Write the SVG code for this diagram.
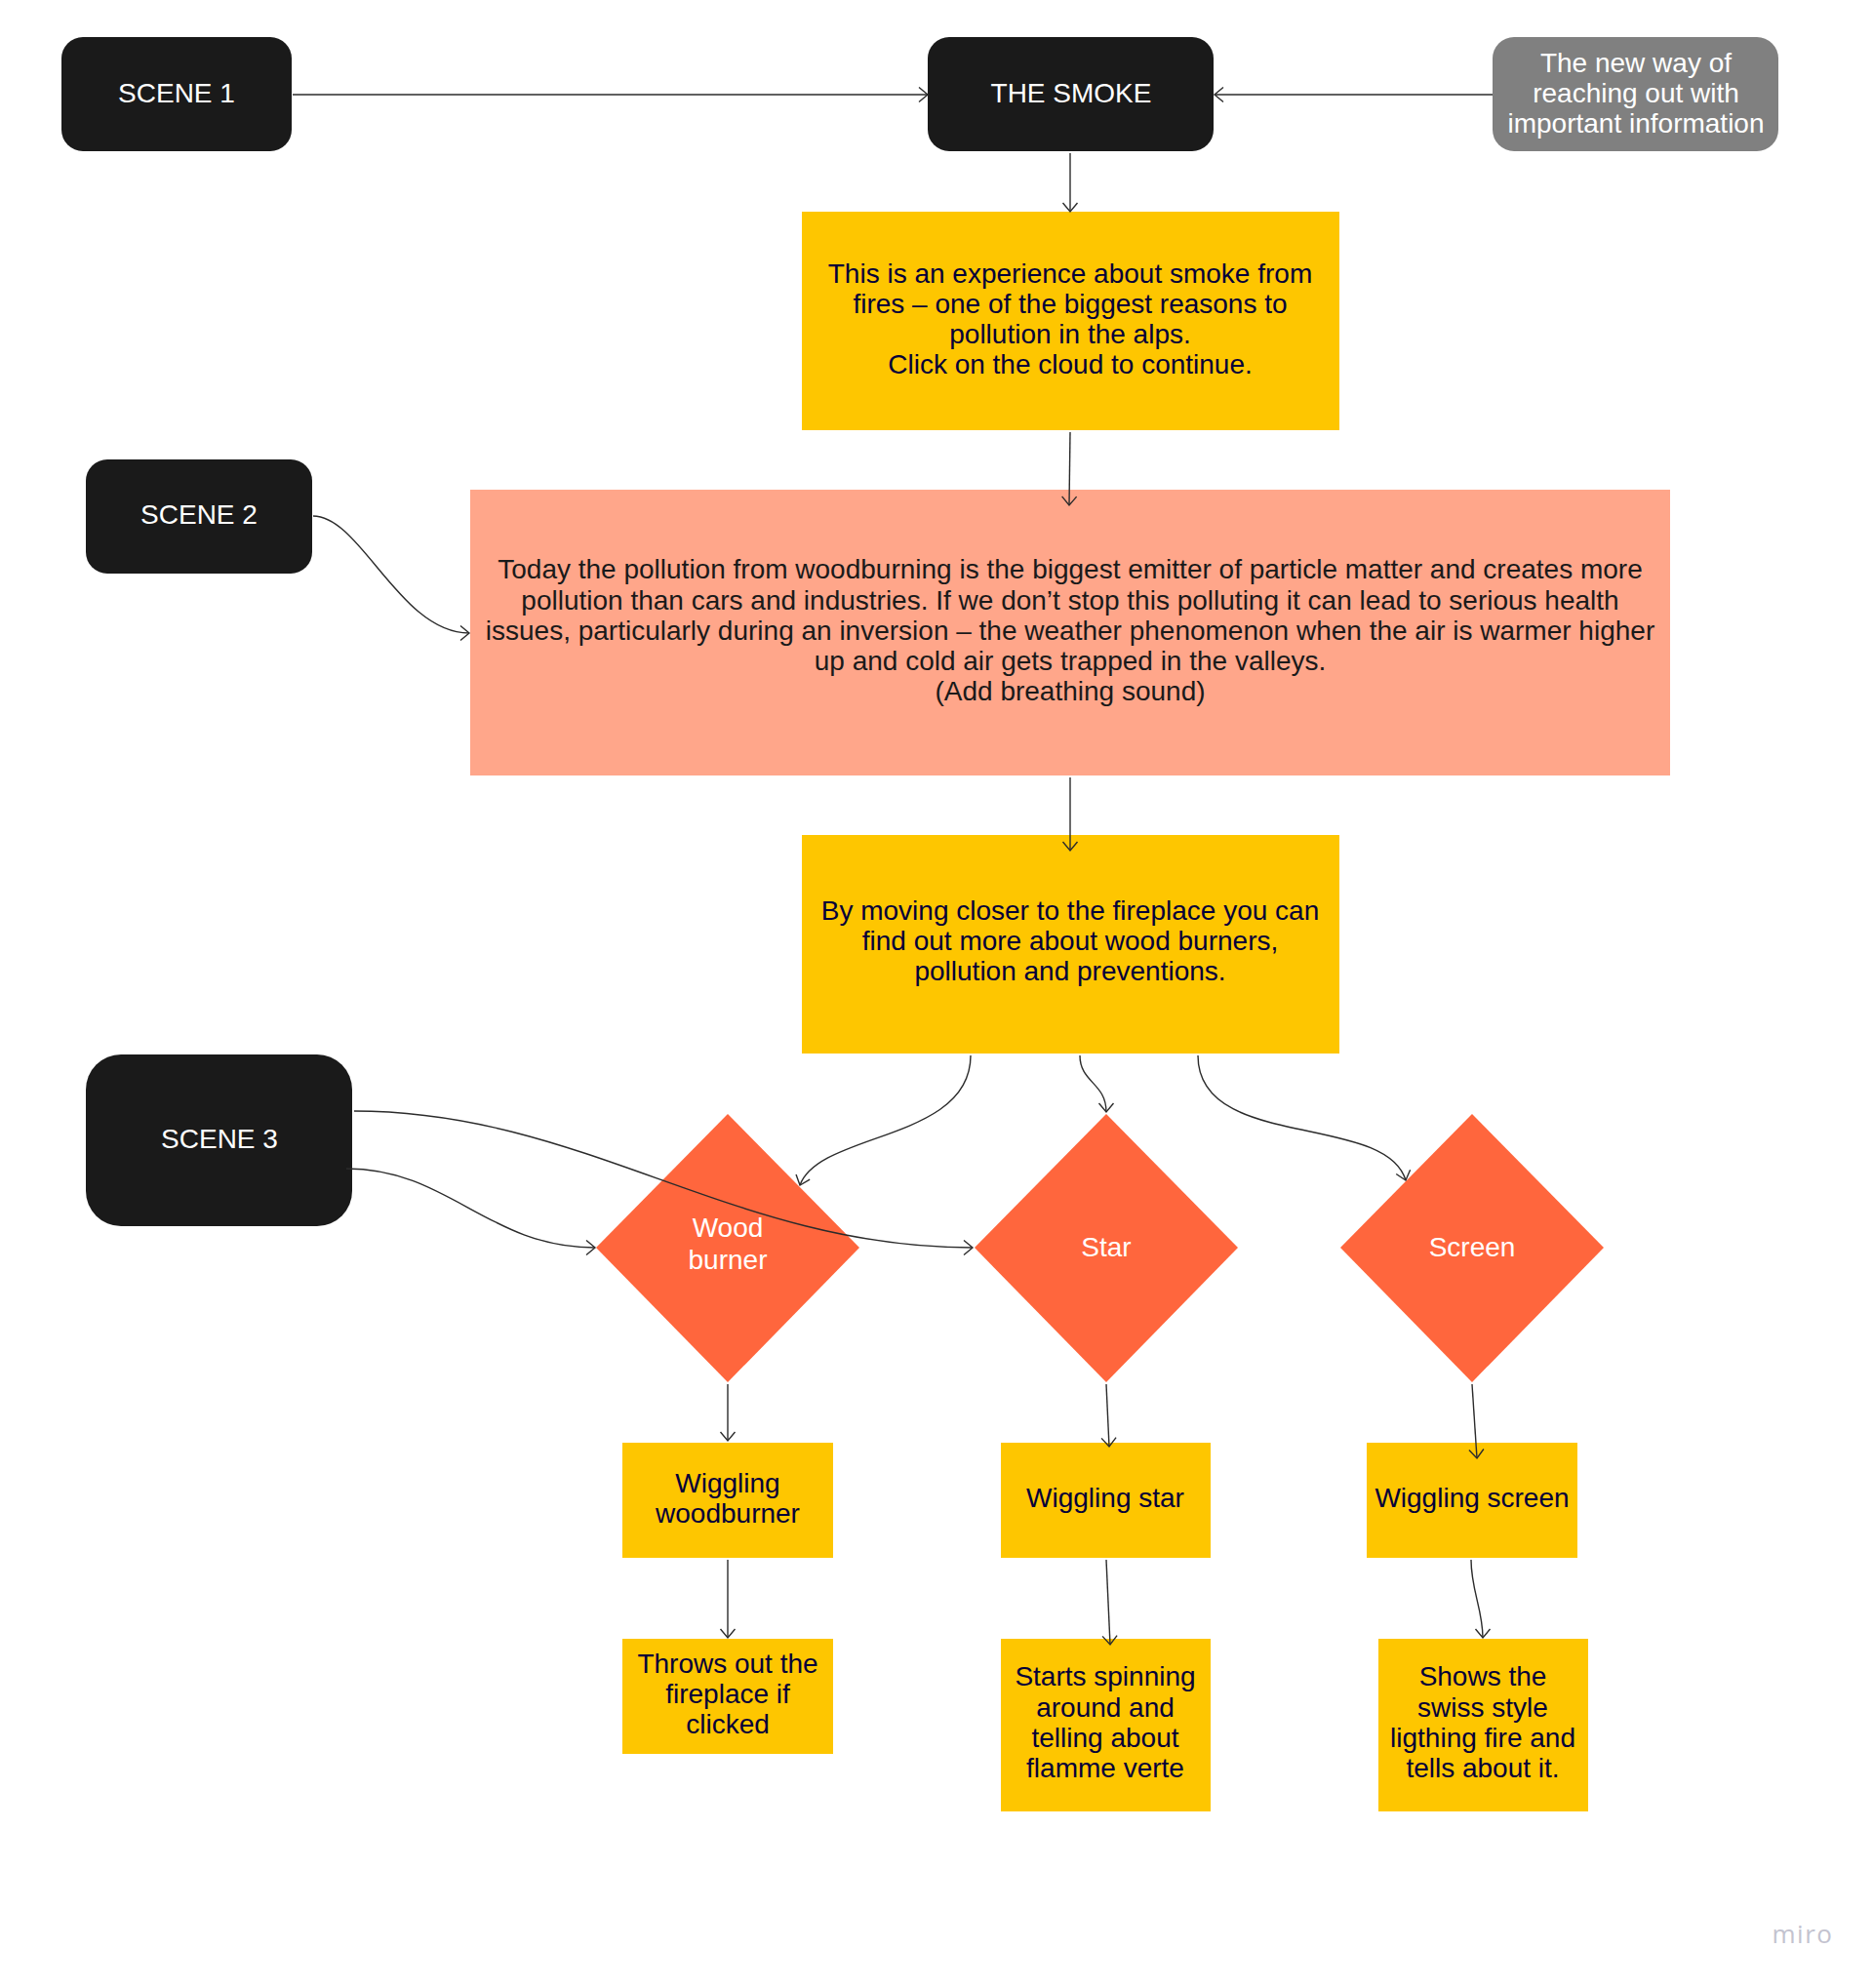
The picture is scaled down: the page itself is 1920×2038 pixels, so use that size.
<svg xmlns="http://www.w3.org/2000/svg" width="1920" height="2038" viewBox="0 0 1920 2038">
<defs>
<marker id="arr" markerUnits="userSpaceOnUse" markerWidth="12" markerHeight="18" refX="10" refY="9" orient="auto">
<path d="M1,1.5 L10,9 L1,16.5" fill="none" stroke="#2b2b2b" stroke-width="1.4"/>
</marker>
<style>
.t{font-family:"Liberation Sans",Arial,sans-serif;font-size:28px;text-anchor:middle}
.w{fill:#ffffff}
.n{fill:#050038}
.k{fill:#1a1a1a}
.dark{fill:#1a1a1a}
.gray{fill:#808080}
.yel{fill:#fec600}
.sal{fill:#ffa68a}
.dia{fill:#ff663d}
.c{fill:none;stroke:#2b2b2b;stroke-width:1.4;marker-end:url(#arr)}
</style>
</defs>
<rect width="1920" height="2038" fill="#ffffff"/>

<g id="scene1"><rect class="dark" x="63" y="38" width="236" height="117" rx="22"/><text class="t w" x="181" y="105">SCENE 1</text></g>
<g id="the-smoke"><rect class="dark" x="951" y="38" width="293" height="117" rx="22"/><text class="t w" x="1098" y="105">THE SMOKE</text></g>
<g id="new-way"><rect class="gray" x="1530" y="38" width="293" height="117" rx="22"/><text class="t w" x="1677" y="74">The new way of</text><text class="t w" x="1677" y="105">reaching out with</text><text class="t w" x="1677" y="136">important information</text></g>

<g id="intro"><rect class="yel" x="822" y="217" width="551" height="224"/>
<text class="t n" x="1097" y="290">This is an experience about smoke from</text>
<text class="t n" x="1097" y="321">fires – one of the biggest reasons to</text>
<text class="t n" x="1097" y="352">pollution in the alps.</text>
<text class="t n" x="1097" y="383">Click on the cloud to continue.</text></g>

<g id="scene2"><rect class="dark" x="88" y="471" width="232" height="117" rx="22"/><text class="t w" x="204" y="537">SCENE 2</text></g>

<g id="pollution"><rect class="sal" x="482" y="502" width="1230" height="293"/>
<text class="t k" x="1097" y="593">Today the pollution from woodburning is the biggest emitter of particle matter and creates more</text>
<text class="t k" x="1097" y="625">pollution than cars and industries. If we don’t stop this polluting it can lead to serious health</text>
<text class="t k" x="1097" y="656">issues, particularly during an inversion – the weather phenomenon when the air is warmer higher</text>
<text class="t k" x="1097" y="687">up and cold air gets trapped in the valleys.</text>
<text class="t k" x="1097" y="718">(Add breathing sound)</text></g>

<g id="fireplace"><rect class="yel" x="822" y="856" width="551" height="224"/>
<text class="t n" x="1097" y="943">By moving closer to the fireplace you can</text>
<text class="t n" x="1097" y="974">find out more about wood burners,</text>
<text class="t n" x="1097" y="1005">pollution and preventions.</text></g>

<g id="scene3"><rect class="dark" x="88" y="1081" width="273" height="176" rx="36"/><text class="t w" x="225" y="1177">SCENE 3</text></g>

<g id="wood-burner"><polygon class="dia" points="746,1142 881,1279 746,1417 611,1279"/><text class="t w" x="746" y="1268">Wood</text><text class="t w" x="746" y="1301">burner</text></g>
<g id="star"><polygon class="dia" points="1134,1142 1269,1279 1134,1417 999,1279"/><text class="t w" x="1134" y="1288">Star</text></g>
<g id="screen"><polygon class="dia" points="1509,1142 1644,1279 1509,1417 1374,1279"/><text class="t w" x="1509" y="1288">Screen</text></g>

<g id="wiggling-woodburner"><rect class="yel" x="638" y="1479" width="216" height="118"/><text class="t n" x="746" y="1530">Wiggling</text><text class="t n" x="746" y="1561">woodburner</text></g>
<g id="wiggling-star"><rect class="yel" x="1026" y="1479" width="215" height="118"/><text class="t n" x="1133" y="1545">Wiggling star</text></g>
<g id="wiggling-screen"><rect class="yel" x="1401" y="1479" width="216" height="118"/><text class="t n" x="1509" y="1545">Wiggling screen</text></g>

<g id="throws-out"><rect class="yel" x="638" y="1680" width="216" height="118"/><text class="t n" x="746" y="1715">Throws out the</text><text class="t n" x="746" y="1746">fireplace if</text><text class="t n" x="746" y="1777">clicked</text></g>
<g id="starts-spinning"><rect class="yel" x="1026" y="1680" width="215" height="177"/><text class="t n" x="1133" y="1728">Starts spinning</text><text class="t n" x="1133" y="1760">around and</text><text class="t n" x="1133" y="1791">telling about</text><text class="t n" x="1133" y="1822">flamme verte</text></g>
<g id="shows-the"><rect class="yel" x="1413" y="1680" width="215" height="177"/><text class="t n" x="1520" y="1728">Shows the</text><text class="t n" x="1520" y="1760">swiss style</text><text class="t n" x="1520" y="1791">ligthing fire and</text><text class="t n" x="1520" y="1822">tells about it.</text></g>

<g id="connectors">
<path class="c" d="M300,97 L951,97"/>
<path class="c" d="M1530,97 L1245,97"/>
<path class="c" d="M1097,157 L1097,217"/>
<path class="c" d="M1097,443 L1096,518"/>
<path class="c" d="M321,529 C370,529 410,649 481,649"/>
<path class="c" d="M1097,797 L1097,872"/>
<path class="c" d="M995,1082 C995,1170 840,1160 820,1215"/>
<path class="c" d="M1107,1082 C1107,1110 1134,1110 1134,1140"/>
<path class="c" d="M1228,1082 C1228,1180 1420,1140 1441,1210"/>
<path class="c" d="M355,1198 C460,1198 500,1279 610,1279"/>
<path class="c" d="M363,1139 C600,1139 750,1279 997,1279"/>
<path class="c" d="M746,1419 L746,1477"/>
<path class="c" d="M1134,1419 L1137,1483"/>
<path class="c" d="M1509,1419 L1514,1495"/>
<path class="c" d="M746,1599 L746,1679"/>
<path class="c" d="M1134,1599 L1138,1686"/>
<path class="c" d="M1508,1599 C1508,1630 1520,1650 1520,1679"/>
</g>

<text x="1848" y="1992" style="font-family:'Open Sans','DejaVu Sans',sans-serif;font-size:26px;fill:#c3c3cf;text-anchor:middle;letter-spacing:1.5px">miro</text>
</svg>
